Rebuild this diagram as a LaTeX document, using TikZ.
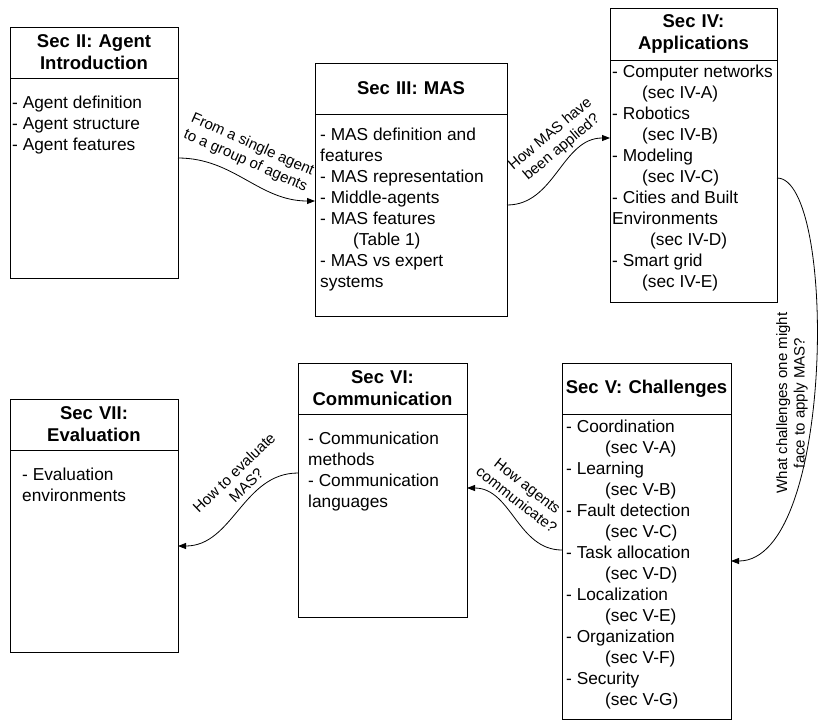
\documentclass[tikz,border=0pt]{standalone}
\usepackage{fontspec}
\setmainfont{Liberation Sans}
\usetikzlibrary{positioning, arrows.meta}

\begin{document}
\begin{tikzpicture}[
		x=1pt, y=-1pt,
		font=\fontsize{17.3}{21}\selectfont,
		% Style for the section boxes
		secHead/.style={draw, line width=0.8pt, anchor=north west, align=center,
			font=\fontsize{18.5}{22}\selectfont\bfseries,
			inner sep=0pt, outer sep=0pt, minimum height=51},
		secBody/.style={draw, line width=0.8pt, inner sep=0pt, outer sep=0pt},
		secItems/.style={align=left, inner sep=0pt},
		% Style for the curved connectors and their questions
		flow/.style={line width=0.8pt, -{Triangle[length=8pt, width=6pt]}},
		flowLabel/.style={font=\fontsize{15}{17.5}\selectfont, align=center, inner sep=0pt}
		]
		\useasboundingbox (0,0) rectangle (819,721);
		
		% ==============================================================================
		% TOP ROW: Sec II, Sec III, Sec IV
		% ==============================================================================
		
		% Sec II
		\node[secHead, text width=168] (s2h) at (10,27) {Sec II: Agent\\Introduction};
		\node[secBody, minimum width=168, minimum height=200, below=0pt of s2h] (s2) {};
		\node[secItems, below right=18pt and 2pt of s2h.south west] (s2t) {
			- Agent definition\\
			- Agent structure\\
			- Agent features
		};
		
		% Sec III
		\node[secHead, text width=192] (s3h) at (315,63) {Sec III: MAS};
		\node[secBody, minimum width=192, minimum height=202, below=0pt of s3h] (s3) {};
		\node[secItems, below right=14pt and 5pt of s3h.south west] (s3t) {
			- MAS definition and\\
			features\\
			- MAS representation\\
			- Middle-agents\\
			- MAS features\\
			\hspace*{33pt}(Table 1)\\
			- MAS vs expert\\
			systems
		};
		
		% Sec IV
		\node[secHead, text width=167, minimum height=52] (s4h) at (610,8) {Sec IV:\\Applications};
		\node[secBody, minimum width=167, minimum height=242, below=0pt of s4h] (s4) {};
		\node[secItems, below right=5pt and 2pt of s4h.south west] (s4t) {
			- Computer networks\\
			\hspace*{30pt}(sec IV-A)\\
			- Robotics\\
			\hspace*{30pt}(sec IV-B)\\
			- Modeling\\
			\hspace*{30pt}(sec IV-C)\\
			- Cities and Built\\
			Environments\\
			\hspace*{38pt}(sec IV-D)\\
			- Smart grid\\
			\hspace*{30pt}(sec IV-E)
		};
		
		% ==============================================================================
		% BOTTOM ROW: Sec V, Sec VI, Sec VII
		% ==============================================================================
		
		% Sec V
		\node[secHead, text width=169] (s5h) at (562,363) {Sec V: Challenges};
		\node[secBody, minimum width=169, minimum height=305, below=0pt of s5h] (s5) {};
		\node[secItems, below right=6pt and 4pt of s5h.south west] (s5t) {
			- Coordination\\
			\hspace*{39pt}(sec V-A)\\
			- Learning\\
			\hspace*{39pt}(sec V-B)\\
			- Fault detection\\
			\hspace*{39pt}(sec V-C)\\
			- Task allocation\\
			\hspace*{39pt}(sec V-D)\\
			- Localization\\
			\hspace*{39pt}(sec V-E)\\
			- Organization\\
			\hspace*{39pt}(sec V-F)\\
			- Security\\
			\hspace*{39pt}(sec V-G)
		};
		
		% Sec VI
		\node[secHead, text width=169] (s6h) at (298,363) {Sec VI:\\Communication};
		\node[secBody, minimum width=169, minimum height=203, below=0pt of s6h] (s6) {};
		\node[secItems, below right=18pt and 10pt of s6h.south west] (s6t) {
			- Communication\\
			methods\\
			- Communication\\
			languages
		};
		
		% Sec VII
		\node[secHead, text width=168] (s7h) at (10,399) {Sec VII:\\Evaluation};
		\node[secBody, minimum width=168, minimum height=202, below=0pt of s7h] (s7) {};
		\node[secItems, below right=18pt and 12pt of s7h.south west] (s7t) {
			- Evaluation\\
			environments
		};
		
		% ==============================================================================
		% CONNECTORS
		% ==============================================================================
		\draw[flow] ([yshift=20pt]s2.east) to[out=0, in=180] ([yshift=14pt]s3.west);
		\node[flowLabel, rotate=-24] (q1) at (249,153) {From a single agent\\to a group of agents};
		
		\draw[flow] ([yshift=10pt]s3.east) to[out=0, in=180] ([yshift=43pt]s4.west);
		\node[flowLabel, rotate=40] (q2) at (556,141) {How MAS have\\been applied?};
		
		\draw[flow] ([yshift=3pt]s4.east) .. controls +(60,0) and +(104,0) .. ([yshift=5.5pt]s5.east);
		\node[flowLabel, rotate=90] (q3) at (792,403) {What challenges one might\\face to apply MAS?};
		
		\draw[flow] ([yshift=16.5pt]s5.west) to[out=180, in=0] ([yshift=27.5pt]s6.east);
		\node[flowLabel, rotate=-38] (q4) at (522,493) {How agents\\communicate?};
		
		\draw[flow] ([yshift=42.5pt]s6.west) to[out=180, in=0] ([yshift=5pt]s7.east);
		\node[flowLabel, rotate=44] (q5) at (240,479) {How to evaluate\\MAS?};
		
	\end{tikzpicture}
\end{document}
